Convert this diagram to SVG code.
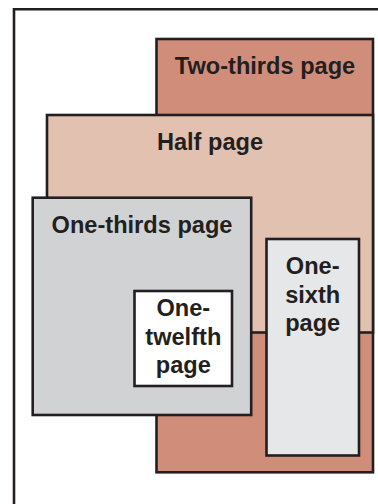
<svg xmlns="http://www.w3.org/2000/svg" width="378" height="504" viewBox="0 0 378 504">
<style>
.b{stroke:#231f20;stroke-width:2.6}
.t{font-family:"Liberation Sans",Arial,sans-serif;font-weight:bold;font-size:23.6px;fill:#231f20;text-anchor:middle}
</style>
<rect width="378" height="504" fill="#ffffff"/>
<path d="M14,504 V9.3 H378" fill="none" class="b"/>
<g id="two-thirds">
<rect x="156.5" y="39" width="216.5" height="433.3" fill="#d08e7a" class="b"/>
<text x="265" y="73.5" class="t">Two-thirds page</text>
</g>
<g id="half">
<rect x="47" y="115" width="326" height="217.5" fill="#e3c1b1" class="b"/>
<text x="210" y="149.5" class="t">Half page</text>
</g>
<g id="one-thirds">
<rect x="32.7" y="197.7" width="218.5" height="217.3" fill="#d1d2d4" class="b"/>
<text x="142" y="233" class="t">One-thirds page</text>
</g>
<g id="one-sixth">
<rect x="266.5" y="239" width="92.5" height="216.5" fill="#e6e7e8" class="b"/>
<text x="312.7" y="274" class="t">One-</text>
<text x="312.7" y="302.5" class="t">sixth</text>
<text x="312.7" y="330.5" class="t">page</text>
</g>
<g id="one-twelfth">
<rect x="134.5" y="291" width="97.5" height="95" fill="#ffffff" class="b"/>
<text x="183.3" y="316" class="t">One-</text>
<text x="183.3" y="344.5" class="t">twelfth</text>
<text x="183.3" y="372.5" class="t">page</text>
</g>
<g id="connectors"/>
</svg>
